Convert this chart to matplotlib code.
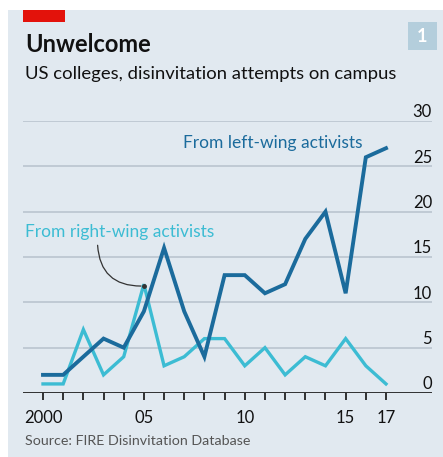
import matplotlib.pyplot as plt
from matplotlib.patches import Rectangle
import matplotlib.transforms as mtransforms

years = list(range(2000, 2018))
left_wing = [2, 2, 4, 6, 5, 9, 16, 9, 4, 13, 13, 11, 12, 17, 20, 11, 26, 27]
right_wing = [1, 1, 7, 2, 4, 12, 3, 4, 6, 6, 3, 5, 2, 4, 3, 6, 3, 1]
ytick_vals = [0, 5, 10, 15, 20, 25, 30]
xtick_vals = [2000, 2005, 2010, 2015, 2017]
xtick_labels = ["2000", "05", "10", "15", "17"]

W, H = 443, 457
plt.rcParams['font.family'] = ['Lato', 'DejaVu Sans']

fig = plt.figure(figsize=(W / 100, H / 100), dpi=100)
fig.patch.set_facecolor("white")

bg = "#e1e9f0"
dark = "#1b6b9c"
light = "#3cbcd3"

# panel background
fig.patches.append(Rectangle((8 / W, 0), 1 - 8 / W, 1 - 10 / H, transform=fig.transFigure,
                             facecolor=bg, edgecolor="none", zorder=-2))
# red tag and number box
fig.patches.append(Rectangle((23 / W, 1 - 22 / H), 42 / W, 12 / H, transform=fig.transFigure,
                             facecolor="#e3120b", edgecolor="none", zorder=-1))
fig.patches.append(Rectangle((408 / W, 1 - 50 / H), 29 / W, 28 / H, transform=fig.transFigure,
                             facecolor="#b4cedc", edgecolor="none", zorder=-1))
fig.text(422.5 / W, 1 - 36 / H, "1", color="white", fontsize=13, fontweight="bold",
         ha="center", va="center")

fig.text(25 / W, 1 - 45 / H, "Unwelcome", fontsize=17, fontweight="bold", color="#111111",
         ha="left", va="center")
fig.text(25 / W, 1 - 74 / H, "US colleges, disinvitation attempts on campus", fontsize=13.3,
         color="#111111", ha="left", va="center")
fig.text(25 / W, 1 - 441 / H, "Source: FIRE Disinvitation Database", fontsize=10.3,
         color="#555555", ha="left", va="center")

# axes: 2000 at x=43px, 2017 at x=386px; 0 at y=393px, 30 at y=121px
ax = fig.add_axes([23 / W, 1 - 393 / H, (432 - 23) / W, (393 - 121) / H])
ax.set_zorder(2)
ax.set_facecolor("none")
px_per_year = (386 - 43) / 17
ax.set_xlim(2000 - 20 / px_per_year, 2017 + 46 / px_per_year)
ax.set_ylim(0, 30)

for v in ytick_vals[1:]:
    ax.axhline(v, color="#c0cad4", lw=1.4, zorder=1)
ax.axhline(0, color="#222222", lw=1.3, zorder=3)

ax.plot(years, right_wing, color=light, lw=2.4, zorder=4, clip_on=False, solid_joinstyle="miter")
ax.plot(years, left_wing, color=dark, lw=2.8, zorder=5, clip_on=False, solid_joinstyle="miter")

for s in ax.spines.values():
    s.set_visible(False)
ax.set_yticks([])
ax.set_xticks(years)
ax.set_xticklabels([])
ax.tick_params(axis="x", length=5, width=1.3, color="#222222", direction="out", pad=2)
for x, lab in zip(xtick_vals, xtick_labels):
    ax.text(x, -1.9, lab, ha="center", va="top", fontsize=12, color="#111111")

offset = mtransforms.offset_copy(ax.transData, fig=fig, x=0, y=6.2, units="points")
ylab_trans = mtransforms.blended_transform_factory(ax.transAxes, offset)
for v in ytick_vals:
    ax.text(1.0, v, str(v), transform=ylab_trans, ha="right", va="center",
            fontsize=12, color="#111111")

ax.text(2015.85, 27.6, "From left-wing activists", color=dark, fontsize=12.5, ha="right", va="center")
ax.text(1999.1, 17.75, "From right-wing activists", color=light, fontsize=12.5, ha="left", va="center")
ax.annotate("", xy=(2005, right_wing[5] - 0.2), xytext=(2002.7, 16.6),
            arrowprops=dict(arrowstyle="-", color="#333333", lw=0.9,
                            connectionstyle="arc3,rad=0.5"))
ax.plot([2005], [right_wing[5] - 0.2], "o", color="#333333", ms=2.5, zorder=6)

fig.savefig("out.png", dpi=100, facecolor=fig.get_facecolor())
